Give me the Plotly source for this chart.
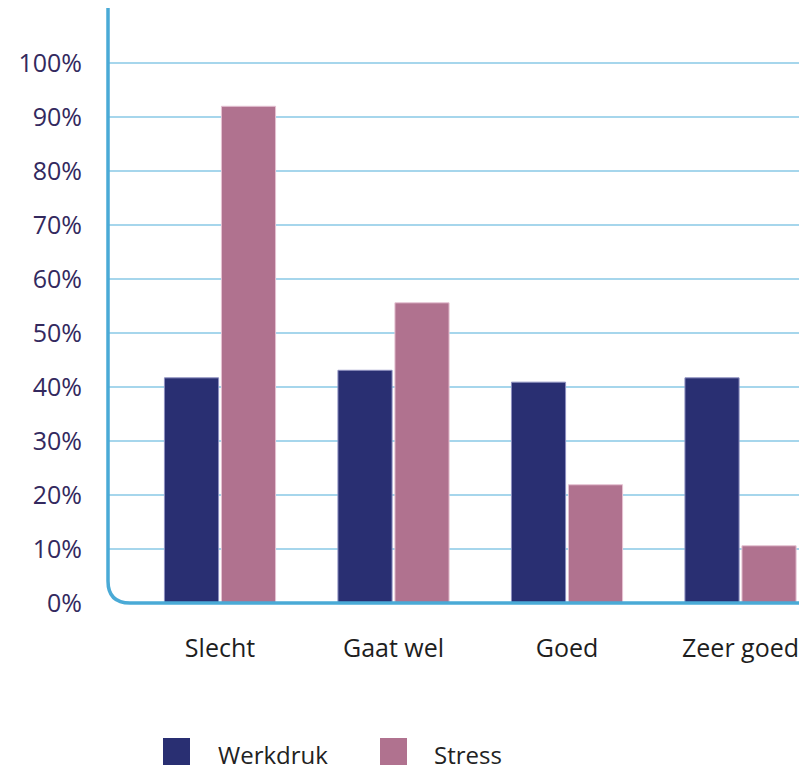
import plotly.graph_objects as go

categories = ["Slecht", "Gaat wel", "Goed", "Zeer goed"]
werkdruk = [41.7, 43.1, 40.9, 41.7]
stress = [92.0, 55.6, 21.9, 10.6]
y_ticks = list(range(0, 101, 10))
y_labels = [f"{v}%" for v in y_ticks]

W, H = 799, 769
L, R, T, B = 108, 0, 8, 166
PW, PH = W - L - R, H - T - B

NAVY = "#292f72"
MAUVE = "#b0728f"
AXIS = "#4aaad6"
GRID = "#a6d6ec"
FONT = "Open Sans"


def paper(px, py):
    return (px - L) / PW, (H - B - py) / PH


fig = go.Figure()
fig.add_trace(go.Bar(x=categories, y=werkdruk, name="Werkdruk",
                     marker=dict(color=NAVY, line=dict(color="#8e90c0", width=1))))
fig.add_trace(go.Bar(x=categories, y=stress, name="Stress",
                     marker=dict(color=MAUVE, line=dict(color="#e6c3d3", width=1))))

# rounded axis line (left + bottom)
r = 22
rx, ry = r / PW, r / PH
fig.add_shape(type="path", xref="paper", yref="paper",
              path=f"M 0,1 L 0,{ry} Q 0,0 {rx},0 L 1,0",
              line=dict(color=AXIS, width=3.5), layer="above")

# legend drawn manually
legend_items = [("Werkdruk", NAVY, 163, 217), ("Stress", MAUVE, 380, 433)]
for name, col, sx, tx in legend_items:
    x0, y0 = paper(sx, 765)
    x1, y1 = paper(sx + 27, 738)
    fig.add_shape(type="rect", xref="paper", yref="paper", x0=x0, x1=x1, y0=y0, y1=y1,
                  fillcolor=col, line=dict(color=col, width=0))
    ax, ay = paper(tx, 754)
    fig.add_annotation(xref="paper", yref="paper", x=ax, y=ay, text=name, showarrow=False,
                       xanchor="left", yanchor="middle", height=26, borderpad=0,
                       font=dict(family=FONT, size=24, color="#222222"))

fig.update_layout(
    width=W, height=H,
    margin=dict(l=L, r=R, t=T, b=B, pad=0),
    paper_bgcolor="white", plot_bgcolor="white",
    barmode="group", bargap=0.343, bargroupgap=0.05,
    showlegend=False,
    font=dict(family=FONT),
)
fig.update_xaxes(range=[-0.6455, 3.337], showgrid=False, zeroline=False, showline=False,
                 ticks="", tickfont=dict(family=FONT, size=25, color="#1e1e1e"),
                 ticklabelstandoff=28)
fig.update_yaxes(range=[0, 110.2], tickvals=y_ticks, ticktext=y_labels,
                 showgrid=True, gridcolor=GRID, gridwidth=1.5, zeroline=False,
                 showline=False, ticks="",
                 tickfont=dict(family=FONT, size=25, color="#33295e"),
                 ticklabelstandoff=25)

fig.write_html("out.html", config={"displayModeBar": False},
               post_script="document.body.style.margin='0';document.body.style.overflow='hidden';")
